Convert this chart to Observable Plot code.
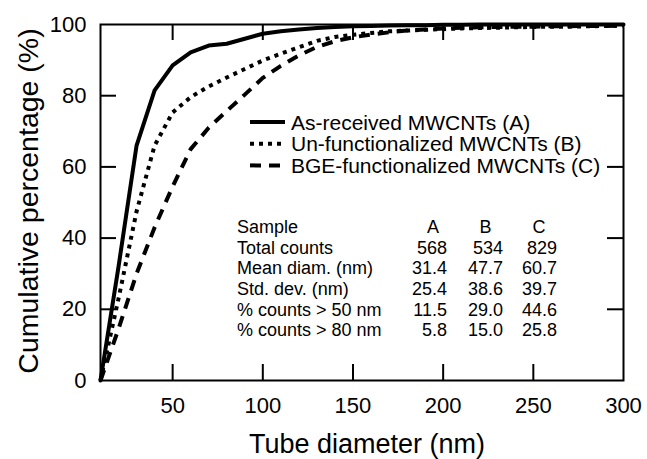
<!DOCTYPE html>
<html>
<head>
<meta charset="utf-8">
<script src="https://cdn.jsdelivr.net/npm/d3@7"></script>
<script src="https://cdn.jsdelivr.net/npm/@observablehq/plot@0.6"></script>
<style>
  body { margin: 0; background: #fff; }
  #chart svg { font-family: "Liberation Sans", Arial, sans-serif; }
</style>
</head>
<body>
<div id="chart"></div>
<script>
// ---- data ----
const diameter = [10, 20, 30, 40, 50, 60, 70, 80, 90, 100, 110, 120, 130, 140, 150, 160, 170, 180, 190, 200, 210, 220, 230, 240, 250, 260, 270, 280, 290, 300];
const seriesA = [0, 32, 66, 81.5, 88.5, 92.2, 94.1, 94.6, 96, 97.4, 98.1, 98.6, 99, 99.3, 99.5, 99.6, 99.7, 99.8, 99.8, 99.9, 99.9, 100, 100, 100, 100, 100, 100, 100, 100, 100];
const seriesB = [0, 23, 47.5, 66, 75.3, 79.6, 82.6, 85.1, 87.5, 89.9, 91.8, 93.6, 95.4, 96.5, 97.1, 97.6, 98.1, 98.3, 98.5, 98.7, 98.9, 99, 99.1, 99.2, 99.3, 99.4, 99.4, 99.5, 99.6, 99.7];
const seriesC = [0, 14.5, 30, 43, 54.5, 65, 71, 75.7, 80.3, 85, 88.4, 91.3, 93.7, 95.3, 96.4, 97.2, 97.8, 98.3, 98.6, 98.9, 99.1, 99.2, 99.3, 99.4, 99.4, 99.5, 99.5, 99.6, 99.6, 99.7];
const seriesKeys = ["A", "B", "C"];
const seriesNames = ["As-received MWCNTs (A)", "Un-functionalized MWCNTs (B)", "BGE-functionalized MWCNTs (C)"];

const xTickLabels = [50, 100, 150, 200, 250, 300];
const yTickLabels = [0, 20, 40, 60, 80, 100];
const xInnerTicks = [50, 100, 150, 200, 250];
const yInnerTicks = [20, 40, 60, 80];
const xTitle = "Tube diameter (nm)";
const yTitle = "Cumulative percentage (%)";

const tableHeader = ["Sample", "A", "B", "C"];
const tableRowLabels = ["Total counts", "Mean diam. (nm)", "Std. dev. (nm)", "% counts > 50 nm", "% counts > 80 nm"];
const tableColA = ["568", "31.4", "25.4", "11.5", "5.8"];
const tableColB = ["534", "47.7", "38.6", "29.0", "15.0"];
const tableColC = ["829", "60.7", "39.7", "44.6", "25.8"];

// ---- build ----
const seriesValues = [seriesA, seriesB, seriesC];
const rows = seriesKeys.flatMap((k, s) => diameter.map((d, i) => ({ x: d, y: seriesValues[s][i], s: k })));
const styles = {
  A: { strokeDasharray: null, strokeLinecap: "round" },
  B: { strokeDasharray: "4,5", strokeLinecap: "butt" },
  C: { strokeDasharray: "11,8", strokeLinecap: "butt" }
};

const W = 647, H = 459;
const mL = 100, mR = 24, mT = 24, mB = 79;
const fw = W - mL - mR, fh = H - mT - mB, tk = 16;
const FONT = "Liberation Sans, Arial, sans-serif";

const lineMarks = seriesKeys.map(k => Plot.line(rows.filter(r => r.s === k), {
  x: "x", y: "y", stroke: "black", strokeWidth: 4, strokeLinejoin: "round",
  strokeDasharray: styles[k].strokeDasharray, strokeLinecap: styles[k].strokeLinecap
}));

const chart = Plot.plot({
  width: W, height: H,
  marginLeft: mL, marginRight: mR, marginTop: mT, marginBottom: mB,
  style: { background: "white", color: "black", fontFamily: FONT },
  x: { domain: [10, 300] },
  y: { domain: [0, 100] },
  marks: [
    ...lineMarks,
    Plot.frame({ stroke: "black", strokeWidth: 2 }),
    Plot.tickX(xInnerTicks, { x: d => d, stroke: "black", strokeWidth: 2, insetTop: fh - tk }),
    Plot.tickX(xInnerTicks, { x: d => d, stroke: "black", strokeWidth: 2, insetBottom: fh - tk }),
    Plot.tickY(yInnerTicks, { y: d => d, stroke: "black", strokeWidth: 2, insetRight: fw - tk }),
    Plot.tickY(yInnerTicks, { y: d => d, stroke: "black", strokeWidth: 2, insetLeft: fw - tk }),
    Plot.axisX({ ticks: xTickLabels, tickSize: 0, tickPadding: 17, fontSize: 22, label: null }),
    Plot.axisY({ ticks: yTickLabels, tickSize: 0, tickPadding: 14, fontSize: 22, label: null })
  ]
});

document.getElementById("chart").appendChild(chart);
const svg = d3.select(chart);

// axis titles
svg.append("text").attr("x", 367).attr("y", 453)
  .attr("text-anchor", "middle").attr("font-family", FONT).attr("font-size", 27)
  .attr("fill", "black").text(xTitle);
svg.append("text").attr("transform", "translate(28,201) rotate(-90)")
  .attr("text-anchor", "middle").attr("dy", "0.36em").attr("font-family", FONT).attr("font-size", 28.5)
  .attr("fill", "black").text(yTitle);

// legend
const legend = svg.append("g").attr("transform", "translate(250,122)")
  .attr("font-family", FONT);
seriesKeys.forEach((k, i) => {
  const g = legend.append("g").attr("transform", `translate(0,${i * 21.7})`);
  g.append("line").attr("x1", 0).attr("x2", 35).attr("y1", 0).attr("y2", 0)
    .attr("stroke", "black").attr("stroke-width", 4)
    .attr("stroke-dasharray", styles[k].strokeDasharray)
    .attr("stroke-linecap", "butt");
  g.append("text").attr("x", 41).attr("dy", "0.36em").attr("font-size", 21)
    .attr("text-anchor", "start").attr("fill", "black").text(seriesNames[i]);
});

// stats table
const table = svg.append("g").attr("transform", "translate(237,233.3)")
  .attr("font-family", FONT).attr("font-size", 18).attr("fill", "black");
const rowH = 20.6;
const colRight = [210, 266, 320];
const colCenter = [196, 248.5, 302];
table.append("text").attr("x", 0).attr("y", 0).attr("text-anchor", "start").text(tableHeader[0]);
[1, 2, 3].forEach(j => table.append("text").attr("x", colCenter[j - 1]).attr("y", 0)
  .attr("text-anchor", "middle").text(tableHeader[j]));
const cols = [tableColA, tableColB, tableColC];
tableRowLabels.forEach((lab, i) => {
  const y = (i + 1) * rowH;
  table.append("text").attr("x", 0).attr("y", y).attr("text-anchor", "start").text(lab);
  cols.forEach((c, j) => table.append("text").attr("x", colRight[j]).attr("y", y)
    .attr("text-anchor", "end").text(c[i]));
});
</script>
</body>
</html>
